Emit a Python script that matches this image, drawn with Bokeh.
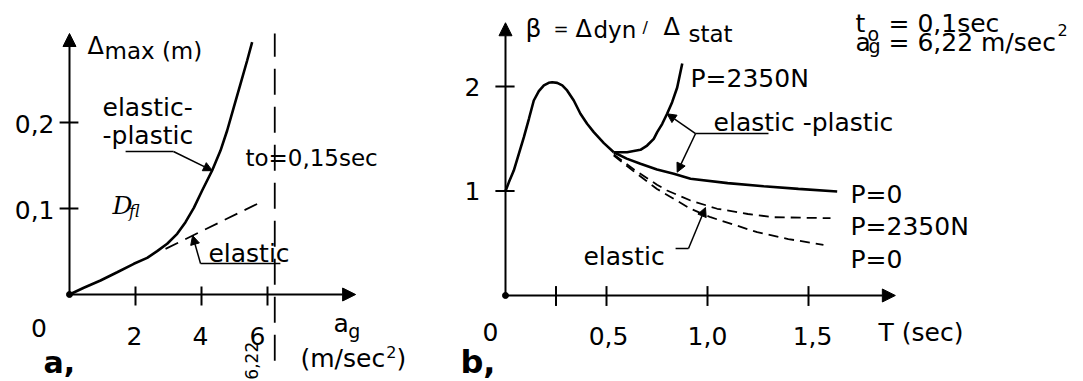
import math
from bokeh.plotting import figure
from bokeh.layouts import row
from bokeh.models import Range1d, Arrow, NormalHead
from bokeh.core.properties import value
from bokeh.embed import file_html
from bokeh.resources import INLINE

# ---------------- data: panel a ----------------
a_ep_x = [0, 0.434, 0.939, 1.445, 1.949, 2.354, 2.657, 2.960, 3.263, 3.515, 3.768,
          4.020, 4.323, 4.576, 4.778, 4.980, 5.182, 5.384, 5.535]
a_ep_y = [0, 0.0078, 0.0163, 0.0259, 0.0357, 0.0426, 0.0504, 0.0590, 0.0705, 0.0841,
          0.1008, 0.1209, 0.1442, 0.1674, 0.1907, 0.2178, 0.2450, 0.2721, 0.2934]
a_el_x = [2.91, 5.79]
a_el_y = [0.053, 0.1073]
a_limit_x = 6.22
a_xticks = [2, 4, 6]
a_xtick_labels = ["2", "4", "6"]
a_yticks = [0.1, 0.2]
a_ytick_labels = ["0,1", "0,2"]

# ---------------- data: panel b ----------------
b_common_x = [0, 0.017, 0.041, 0.066, 0.091, 0.116, 0.140, 0.165, 0.190, 0.214, 0.231,
              0.256, 0.281, 0.305, 0.338, 0.371, 0.404, 0.437, 0.487, 0.536]
b_common_y = [1.0, 1.085, 1.196, 1.356, 1.515, 1.691, 1.866, 1.955, 2.010, 2.035, 2.041,
              2.035, 2.010, 1.962, 1.866, 1.739, 1.643, 1.563, 1.458, 1.371]
b_ep_p2350_x = [0.536, 0.602, 0.668, 0.701, 0.734, 0.751, 0.776, 0.80, 0.825, 0.85, 0.875]
b_ep_p2350_y = [1.371, 1.371, 1.394, 1.435, 1.499, 1.563, 1.643, 1.739, 1.85, 1.99, 2.22]
b_ep_p0_x = [0.536, 0.60, 0.668, 0.75, 0.833, 0.916, 1.1, 1.278, 1.45, 1.642]
b_ep_p0_y = [1.371, 1.31, 1.26, 1.205, 1.165, 1.117, 1.075, 1.046, 1.02, 0.995]
b_el_p2350_x = [0.536, 0.64, 0.75, 0.80, 0.916, 1.048, 1.2, 1.327, 1.609]
b_el_p2350_y = [1.35, 1.2, 1.06, 1.005, 0.909, 0.83, 0.78, 0.749, 0.74]
b_el_p0_x = [0.536, 0.64, 0.75, 0.916, 1.015, 1.246, 1.4, 1.574]
b_el_p0_y = [1.34, 1.18, 1.02, 0.83, 0.749, 0.606, 0.54, 0.485]
b_xticks = [0.25, 0.5, 1.0, 1.5]
b_xtick_label_pos = [0.51, 1.0, 1.52]
b_xtick_labels = ["0,5", "1,0", "1,5"]
b_yticks = [1, 2]
b_ytick_labels = ["1", "2"]

FONT = "DejaVu Sans"
BLACK = "#000000"


def make_fig(w, h, xr, yr):
    p = figure(width=w, height=h, x_range=Range1d(*xr), y_range=Range1d(*yr),
               output_backend="svg", toolbar_location=None,
               x_axis_location=None, y_axis_location=None, min_border=0)
    p.grid.visible = False
    p.outline_line_color = None
    p.background_fill_color = "white"
    p.border_fill_color = "white"
    return p


def label(p, x, y, text, size=25, align="left", baseline="alphabetic",
          style="normal", font=FONT, angle=0.0):
    p.text(x=[x], y=[y], text=[text], text_font=value(font),
           text_font_size=f"{size}px", text_align=align, text_baseline=baseline,
           text_font_style=style, text_color=BLACK, angle=angle)


def arrow(p, x0, y0, x1, y1, size=12, lw=2.0):
    p.add_layout(Arrow(end=NormalHead(size=size, fill_color=BLACK, line_color=BLACK, line_width=1),
                       x_start=x0, y_start=y0, x_end=x1, y_end=y1,
                       line_color=BLACK, line_width=lw))


# ================= panel a =================
pa = make_fig(440, 381, (-2.0909, 11.2424), (-0.10116, 0.34186))

arrow(pa, 0, 0, 8.67, 0, size=13, lw=2)
arrow(pa, 0, 0, 0, 0.3035, size=13, lw=2)
pa.scatter([0], [0], size=6, color=BLACK)

# ticks
pa.segment(x0=a_xticks, y0=[0.0093] * len(a_xticks), x1=a_xticks, y1=[-0.0128] * len(a_xticks),
           line_color=BLACK, line_width=2)
pa.segment(x0=[-0.30] * len(a_yticks), y0=a_yticks, x1=[0.27] * len(a_yticks), y1=a_yticks,
           line_color=BLACK, line_width=2)

# curves
pa.line(a_ep_x, a_ep_y, line_color=BLACK, line_width=2.6)
pa.line(a_el_x, a_el_y, line_color=BLACK, line_width=1.8, line_dash="14 8")
pa.line([a_limit_x, a_limit_x], [-0.077, 0.3035], line_color=BLACK, line_width=1.8,
        line_dash="26 12")

# leaders
pa.line([1.70, 3.15], [0.1663, 0.1663], line_color=BLACK, line_width=1.5)
arrow(pa, 3.15, 0.1663, 4.33, 0.144, size=9, lw=1.5)
pa.line([6.39, 3.97], [0.036, 0.036], line_color=BLACK, line_width=1.5)
arrow(pa, 3.97, 0.036, 3.73, 0.0686, size=9, lw=1.5)

# tick labels
pa.text(x=[-0.924], y=[-0.0384], text=["0"], text_font=value(FONT), text_font_size="25px",
        text_align="center", text_baseline="alphabetic", text_color=BLACK)
pa.text(x=a_xticks, y=[-0.0477] * 3, text=a_xtick_labels, x_offset=[-1, -1, -10],
        text_font=value(FONT), text_font_size="25px", text_align="center",
        text_baseline="alphabetic", text_color=BLACK)
pa.text(x=[-0.4545] * 2, y=a_yticks, text=a_ytick_labels, y_offset=[1, 1],
        text_font=value(FONT), text_font_size="25px", text_align="right",
        text_baseline="middle", text_color=BLACK)

# titles / annotations
label(pa, 0.545, 0.2895, "\u0394", size=24)
label(pa, 1.06, 0.2837, "max (m)", size=23)
label(pa, 1.0, 0.2174, "elastic-")
label(pa, 1.0, 0.1849, "-plastic")
label(pa, 5.33, 0.159, "to=0,15sec", size=23)
label(pa, 1.30, 0.1035, "D", size=25, style="italic", font="DejaVu Serif")
label(pa, 1.80, 0.097, "fl", size=16, style="italic", font="DejaVu Serif")
label(pa, 4.21, 0.0477, "elastic")
label(pa, 5.52, -0.077, "6,22", size=17, align="center", baseline="middle", angle=math.pi / 2)
label(pa, 8.0, -0.0337, "a")
label(pa, 8.45, -0.043, "g", size=19)
label(pa, 7.0, -0.0744, "(m/sec")
label(pa, 9.6, -0.0674, "2", size=16)
label(pa, 9.91, -0.0744, ")")
label(pa, -0.788, -0.0791, "a,", size=30, style="bold")

# ================= panel b =================
pb = make_fig(643, 381, (-0.32178, 2.86139), (-0.82297, 2.82297))

arrow(pb, 0, 0, 1.93, 0, size=13, lw=2)
arrow(pb, 0, 0, 0, 2.61, size=13, lw=2)
pb.scatter([0], [0], size=6, color=BLACK)

pb.segment(x0=b_xticks, y0=[0.09] * len(b_xticks), x1=b_xticks, y1=[-0.1] * len(b_xticks),
           line_color=BLACK, line_width=2)
pb.segment(x0=[-0.05] * len(b_yticks), y0=b_yticks, x1=[0.045] * len(b_yticks), y1=b_yticks,
           line_color=BLACK, line_width=2)

pb.line(b_common_x, b_common_y, line_color=BLACK, line_width=2.6)
pb.line(b_ep_p2350_x, b_ep_p2350_y, line_color=BLACK, line_width=2.6)
pb.line(b_ep_p0_x, b_ep_p0_y, line_color=BLACK, line_width=2.6)
pb.line(b_el_p2350_x, b_el_p2350_y, line_color=BLACK, line_width=1.8, line_dash="10 6")
pb.line(b_el_p0_x, b_el_p0_y, line_color=BLACK, line_width=1.8, line_dash="10 6")

# leaders
pb.line([0.941, 1.302], [1.55, 1.55], line_color=BLACK, line_width=1.5)
arrow(pb, 0.941, 1.55, 0.80, 1.739, size=9, lw=1.5)
arrow(pb, 0.941, 1.55, 0.85, 1.18, size=9, lw=1.5)
pb.line([0.842, 0.906], [0.45, 0.45], line_color=BLACK, line_width=1.5)
arrow(pb, 0.906, 0.45, 0.99, 0.842, size=9, lw=1.5)

# tick labels
label(pb, -0.074, -0.354, "0", align="center")
pb.text(x=b_xtick_label_pos, y=[-0.383] * 3, text=b_xtick_labels, text_font=value(FONT),
        text_font_size="25px", text_align="center", text_baseline="alphabetic", text_color=BLACK)
pb.text(x=[-0.124] * 2, y=b_yticks, text=b_ytick_labels, text_font=value(FONT),
        text_font_size="25px", text_align="right", text_baseline="middle", text_color=BLACK)
label(pb, 1.847, -0.354, "T (sec)")

# title
label(pb, 0.099, 2.555, "\u03b2")
label(pb, 0.2376, 2.555, "=", size=18)
label(pb, 0.3465, 2.555, "\u0394", size=24)
label(pb, 0.4356, 2.536, "dyn", size=23)
label(pb, 0.678, 2.565, "/", size=16)
label(pb, 0.782, 2.565, "\u0394", size=24)
label(pb, 0.906, 2.507, "stat", size=23)

label(pb, 1.733, 2.603, "t")
label(pb, 1.792, 2.507, "o", size=19)
label(pb, 1.896, 2.603, "= 0,1sec")
label(pb, 1.733, 2.421, "a")
label(pb, 1.797, 2.383, "g", size=19)
label(pb, 1.896, 2.421, "= 6,22 m/sec")
label(pb, 2.733, 2.545, "2", size=16)

label(pb, 0.916, 2.077, "P=2350N")
label(pb, 1.03, 1.656, "elastic -plastic")
label(pb, 1.708, 0.967, "P=0")
label(pb, 1.708, 0.660, "P=2350N")
label(pb, 1.708, 0.344, "P=0")
label(pb, 0.386, 0.373, "elastic")
label(pb, -0.223, -0.641, "b,", size=32, style="bold")

layout = row(pa, pb)
open("out.html", "w").write(file_html(layout, INLINE))
